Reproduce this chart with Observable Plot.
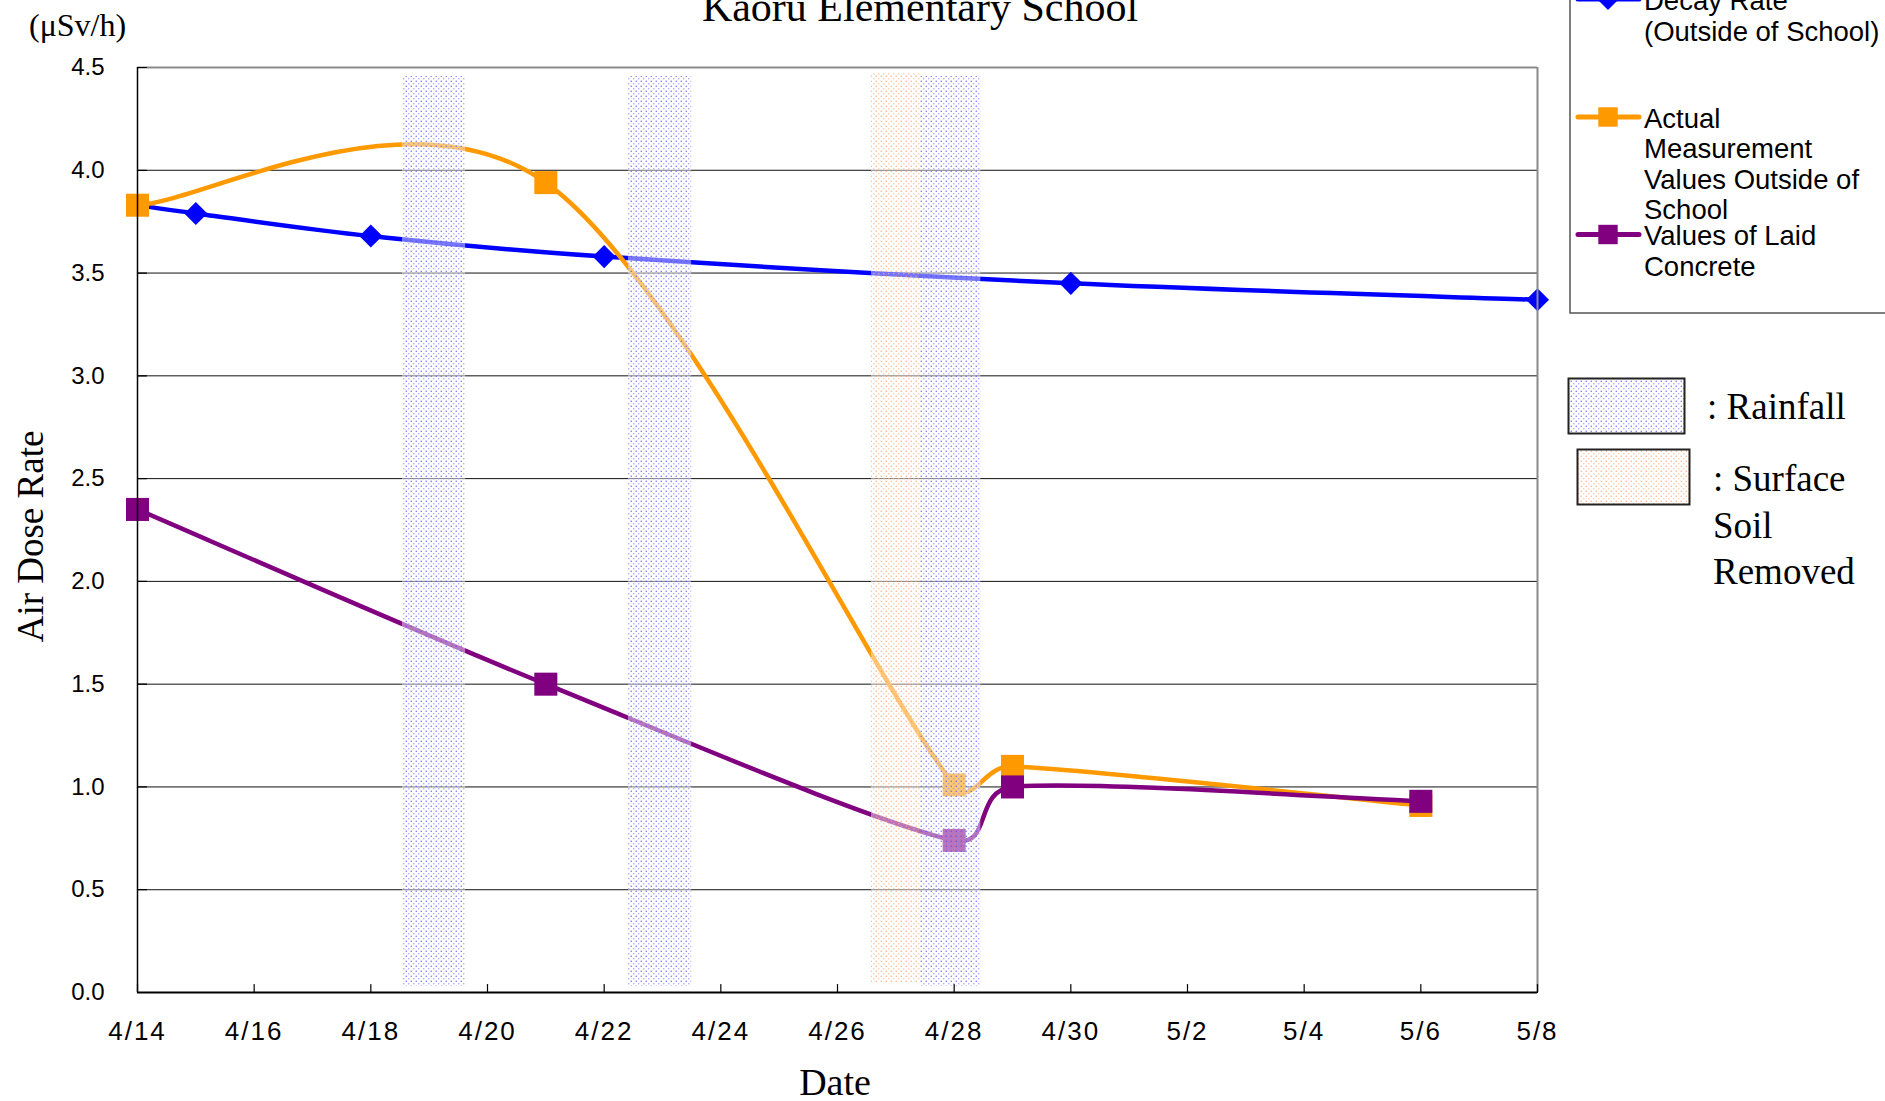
<!DOCTYPE html>
<html>
<head>
<meta charset="utf-8">
<script src="https://cdn.jsdelivr.net/npm/d3@7"></script>
<script src="https://cdn.jsdelivr.net/npm/@observablehq/plot@0.6"></script>
<style>
  html, body { margin: 0; padding: 0; background: #fff; overflow: hidden; }
  #wrap { position: relative; width: 1885px; height: 1101px; background: #fff; }
  #wrap > svg { position: absolute; left: 0; top: 0; }
</style>
</head>
<body>
<div id="wrap"></div>
<script>
// ---------- data ----------
const chartTitle = "Kaoru Elementary School";
const unitLabel = "(μSv/h)";
const yAxisTitle = "Air Dose Rate";
const xAxisTitle = "Date";

const decayDates = ["4/14", "4/15", "4/18", "4/22", "4/30", "5/8"];
const decayValues = [3.83, 3.79, 3.68, 3.58, 3.45, 3.37];

const actualDates = ["4/14", "4/21", "4/28", "4/29", "5/6"];
const actualValues = [3.83, 3.94, 1.01, 1.10, 0.91];

const concreteDates = ["4/14", "4/21", "4/28", "4/29", "5/6"];
const concreteValues = [2.35, 1.50, 0.74, 1.00, 0.93];

const xTickLabels = ["4/14", "4/16", "4/18", "4/20", "4/22", "4/24", "4/26", "4/28", "4/30", "5/2", "5/4", "5/6", "5/8"];
const yTicks = [0, 0.5, 1, 1.5, 2, 2.5, 3, 3.5, 4, 4.5];

const rainfallStart = ["4/18 13:00", "4/22 10:00", "4/27 10:00"];
const rainfallEnd   = ["4/19 15:00", "4/23 12:00", "4/28 11:00"];
const soilStart = ["4/26 14:00"];
const soilEnd   = ["4/27 10:00"];

const legendDecay = ["Decay Rate", "(Outside of School)"];
const legendActual = ["Actual", "Measurement", "Values Outside of", "School"];
const legendConcrete = ["Values of Laid", "Concrete"];
const legendRain = [": Rainfall"];
const legendSoil = [": Surface", "Soil", "Removed"];

// ---------- helpers ----------
function parseDay(s) {
  const [md, hm] = s.split(" ");
  const [m, d] = md.split("/").map(Number);
  let h = 0, mi = 0;
  if (hm) [h, mi] = hm.split(":").map(Number);
  return new Date(Date.UTC(2011, m - 1, d, h, mi));
}
const toRows = (dates, values) => dates.map((d, i) => ({date: parseDay(d), value: values[i]}));
const decayData = toRows(decayDates, decayValues);
const actualData = toRows(actualDates, actualValues);
const concreteData = toRows(concreteDates, concreteValues);
const xTickDates = xTickLabels.map(parseDay);
const rainBands = rainfallStart.map((s, i) => ({start: parseDay(s), end: parseDay(rainfallEnd[i])}));
const soilBands = soilStart.map((s, i) => ({start: parseDay(s), end: parseDay(soilEnd[i])}));

// Excel-like smoothed line (Bezier with 1/6 tangents, capped arms)
function excelSmooth(context) {
  let pts = [];
  return {
    areaStart() {}, areaEnd() {},
    lineStart() { pts = []; },
    point(x, y) { pts.push([+x, +y]); },
    lineEnd() {
      const n = pts.length;
      if (!n) return;
      context.moveTo(pts[0][0], pts[0][1]);
      if (n === 1) return;
      const dist = (a, b) => Math.hypot(b[0] - a[0], b[1] - a[1]);
      for (let i = 0; i < n - 1; i++) {
        const p0 = pts[Math.max(0, i - 1)], p1 = pts[i], p2 = pts[i + 1], p3 = pts[Math.min(n - 1, i + 2)];
        const d12 = dist(p1, p2), d02 = dist(p0, p2), d13 = dist(p1, p3);
        let f1 = 1 / 6, f2 = 1 / 6;
        if (d02 > 0 && d02 / 6 >= d12 / 2) f1 = d12 / (2 * d02);
        if (d13 > 0 && d13 / 6 >= d12 / 2) f2 = d12 / (2 * d13);
        context.bezierCurveTo(
          p1[0] + (p2[0] - p0[0]) * f1, p1[1] + (p2[1] - p0[1]) * f1,
          p2[0] - (p3[0] - p1[0]) * f2, p2[1] - (p3[1] - p1[1]) * f2,
          p2[0], p2[1]);
      }
    }
  };
}

const SANS = "'Liberation Sans', Arial, sans-serif";
const SERIF = "'Liberation Serif', 'Times New Roman', serif";
const BLUE = "#0000ff", ORANGE = "#ff9900", PURPLE = "#800080";
const tickShape = {draw(context, l) { context.moveTo(0, 0); context.lineTo(0, -l); }};
const fmtDay = d => `${d.getUTCMonth() + 1}/${d.getUTCDate()}`;

const plot = Plot.plot({
  width: 1885,
  height: 1101,
  marginLeft: 137,
  marginRight: 348,
  marginTop: 67,
  marginBottom: 109,
  style: {fontFamily: SANS, fontSize: "24px", color: "#000", background: "transparent", overflow: "visible"},
  x: {type: "utc", domain: [xTickDates[0], xTickDates[xTickDates.length - 1]]},
  y: {domain: [0, 4.5]},
  marks: [
    Plot.gridY(yTicks, {stroke: "#111", strokeOpacity: 1, strokeWidth: 1}),
    Plot.line(decayData, {x: "date", y: "value", stroke: BLUE, strokeWidth: 4.5, curve: excelSmooth}),
    Plot.dot(decayData, {x: "date", y: "value", symbol: "diamond2", r: 10.4, fill: BLUE, stroke: null}),
    Plot.line(actualData, {x: "date", y: "value", stroke: ORANGE, strokeWidth: 4.5, curve: excelSmooth}),
    Plot.dot(actualData, {x: "date", y: "value", symbol: "square", r: 13, fill: ORANGE, stroke: null}),
    Plot.line(concreteData, {x: "date", y: "value", stroke: PURPLE, strokeWidth: 4.5, curve: excelSmooth}),
    Plot.dot(concreteData, {x: "date", y: "value", symbol: "square", r: 13, fill: PURPLE, stroke: null}),
    Plot.rect(soilBands, {x1: "start", x2: "end", fill: "url(#soilPat)", insetTop: 5, insetBottom: 9}),
    Plot.rect(rainBands, {x1: "start", x2: "end", fill: "url(#rainPat)", insetTop: 9, insetBottom: 6}),
    Plot.ruleY([4.5], {stroke: "#8a8a8a", strokeWidth: 2}),
    Plot.ruleX([xTickDates[xTickDates.length - 1]], {stroke: "#8a8a8a", strokeWidth: 2}),
    Plot.ruleX([xTickDates[0]], {stroke: "#000", strokeWidth: 1.5}),
    Plot.ruleY([0], {stroke: "#000", strokeWidth: 2}),
    Plot.vectorX(xTickDates, {x: d => d, frameAnchor: "bottom", length: 8, anchor: "start", shape: tickShape, stroke: "#000", strokeWidth: 1.2}),
    Plot.vectorY(yTicks, {y: d => d, frameAnchor: "left", length: 9, rotate: 90, anchor: "start", shape: tickShape, stroke: "#000", strokeWidth: 1.2}),
    Plot.axisY({ticks: yTicks, tickFormat: d => d.toFixed(1), tickSize: 0, tickPadding: 33, label: null, fontSize: 24}),
    Plot.axisX({ticks: xTickDates, tickFormat: fmtDay, tickSize: 0, tickPadding: 29, label: null, fontSize: 26})
  ]
});

d3.select(plot).selectAll("[aria-label='x-axis tick label'] text").style("letter-spacing", "2px");

const wrap = document.getElementById("wrap");
wrap.appendChild(plot);

// ---------- overlay: titles and legends ----------
const ns = "http://www.w3.org/2000/svg";
const ov = d3.select(wrap).append("svg")
  .attr("xmlns", ns)
  .attr("width", 1885).attr("height", 1101)
  .style("pointer-events", "none");

const defs = ov.append("defs");
function makePattern(id, c1, c2) {
  const p = defs.append("pattern").attr("id", id).attr("patternUnits", "userSpaceOnUse")
    .attr("width", 5).attr("height", 5);
  p.append("rect").attr("width", 5).attr("height", 5).attr("fill", "#fff").attr("fill-opacity", 0.45);
  p.append("circle").attr("cx", 1.25).attr("cy", 1.25).attr("r", 0.8).attr("fill", c1).attr("fill-opacity", 0.75);
  p.append("circle").attr("cx", 3.75).attr("cy", 3.75).attr("r", 0.8).attr("fill", c2).attr("fill-opacity", 0.75);
}
makePattern("rainPat", "#4848ff", "#8888ff");
makePattern("soilPat", "#ff9663", "#ffb488");

ov.append("text").attr("x", 920).attr("y", 21).attr("text-anchor", "middle")
  .attr("font-family", SERIF).attr("font-size", 42).text(chartTitle);
ov.append("text").attr("x", 29).attr("y", 36)
  .attr("font-family", SERIF).attr("font-size", 32).text(unitLabel);
ov.append("text").attr("transform", "translate(43,536.5) rotate(-90)").attr("text-anchor", "middle")
  .attr("font-family", SERIF).attr("font-size", 37).text(yAxisTitle);
ov.append("text").attr("x", 835).attr("y", 1095).attr("text-anchor", "middle")
  .attr("font-family", SERIF).attr("font-size", 38).text(xAxisTitle);

// series legend box
ov.append("rect").attr("x", 1570).attr("y", -10).attr("width", 330).attr("height", 323)
  .attr("fill", "#fff").attr("stroke", "#555").attr("stroke-width", 1.5);

function legendEntry(lineY, color, symbol, lines, baseline0, step) {
  ov.append("line").attr("x1", 1578).attr("x2", 1639).attr("y1", lineY).attr("y2", lineY)
    .attr("stroke", color).attr("stroke-width", 5).attr("stroke-linecap", "round");
  if (symbol === "diamond") {
    ov.append("path").attr("d", `M1608,${lineY - 11}L1619,${lineY}L1608,${lineY + 11}L1597,${lineY}Z`).attr("fill", color);
  } else {
    ov.append("rect").attr("x", 1598.3).attr("y", lineY - 9.7).attr("width", 19.4).attr("height", 19.4).attr("fill", color);
  }
  lines.forEach((t, i) => {
    ov.append("text").attr("x", 1644).attr("y", baseline0 + i * step)
      .attr("font-family", SANS).attr("font-size", 27.5).text(t);
  });
}
legendEntry(-1, BLUE, "diamond", legendDecay, 10, 30.5);
legendEntry(117, ORANGE, "square", legendActual, 127.7, 30.5);
legendEntry(234.5, PURPLE, "square", legendConcrete, 245, 30.5);

// band legend
ov.append("rect").attr("x", 1568.5).attr("y", 378.5).attr("width", 116).attr("height", 55)
  .attr("fill", "url(#rainPat)").attr("stroke", "#222").attr("stroke-width", 2);
ov.append("rect").attr("x", 1577.5).attr("y", 449.5).attr("width", 112).attr("height", 55)
  .attr("fill", "url(#soilPat)").attr("stroke", "#222").attr("stroke-width", 2);
legendRain.forEach((t, i) => ov.append("text").attr("x", 1707).attr("y", 419 + i * 46.5)
  .attr("font-family", SERIF).attr("font-size", 37).text(t));
legendSoil.forEach((t, i) => ov.append("text").attr("x", 1713).attr("y", 491 + i * 46.5)
  .attr("font-family", SERIF).attr("font-size", 37).text(t));
</script>
</body>
</html>
